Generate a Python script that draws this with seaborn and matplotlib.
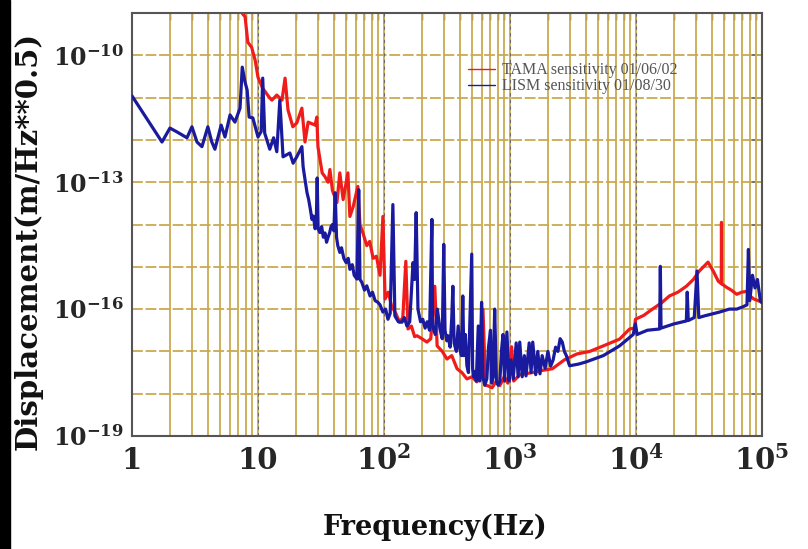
import numpy as np
import pandas as pd
import matplotlib
matplotlib.use("Agg")
import matplotlib.pyplot as plt
from matplotlib.patches import Rectangle
from matplotlib.lines import Line2D
from matplotlib.ticker import FixedLocator, FuncFormatter, NullLocator
import seaborn as sns

# ---- spectra (frequency in Hz, displacement as log10 of m/Hz^0.5) ----
tama_freq = [7.0, 7.9, 8.3, 8.9, 9.5, 10.0, 10.9, 12.4, 12.9, 14.1, 15.5, 16.4, 17.3,
             18.9, 20.3, 22.3, 23.6, 25.0, 28.4, 29.3, 29.9, 32.3, 34.0, 36.0, 37.2,
             39.0, 42.3, 44.6, 47.4, 51.7, 53.6, 56.9, 62.0, 64.5, 68, 73, 77, 82,
             87, 93, 98, 102, 108, 115, 124, 133, 141, 149, 155, 165, 175, 183, 200,
             219, 235, 253, 264, 290, 316, 345, 380, 415, 455, 500, 545, 580, 610,
             640, 665, 720, 780, 830, 900, 960, 1030, 1070, 1195, 1515, 1800, 2170,
             2700, 3400, 4300, 5500, 7400, 8900, 9700, 9900, 11500, 13500, 16000,
             18400, 21500, 25100, 28500, 31800, 37300, 41000, 45000, 47500, 47700,
             47900, 52000, 57000, 63000, 69000, 76000, 81000, 86000, 93000, 100000]
tama_log10 = [-8.9, -9.09, -9.69, -9.81, -10.12, -10.52, -10.78, -11.01, -11.06, -10.94,
              -11.06, -10.54, -11.29, -11.69, -11.6, -11.25, -12.05, -11.58, -11.65,
              -11.46, -12.16, -12.78, -12.87, -13.0, -12.7, -13.2, -13.48, -12.78,
              -13.41, -12.78, -13.81, -13.58, -13.1, -14.0, -14.2, -14.5, -14.4,
              -14.8, -14.75, -15.2, -13.81, -15.76, -15.6, -15.93, -16.1, -16.31,
              -16.2, -14.87, -16.47, -16.4, -16.65, -16.63, -16.7, -16.78, -16.7,
              -15.46, -16.87, -17.0, -17.18, -17.1, -17.41, -17.5, -17.65, -17.6,
              -17.72, -17.6, -16.0, -17.8, -17.81, -17.86, -17.7, -17.81, -17.6,
              -17.75, -16.89, -17.7, -17.55, -17.5, -17.45, -17.41, -17.2, -17.06,
              -17.0, -16.87, -16.71, -16.47, -16.45, -16.24, -16.15, -16.0, -15.85,
              -15.69, -15.6, -15.46, -15.3, -15.1, -14.89, -15.1, -15.34, -15.4,
              -13.95, -15.4, -15.48, -15.55, -15.65, -15.6, -15.58, -15.7, -15.76,
              -15.8, -15.84]

lism_freq = [1.0, 1.73, 2.0, 2.27, 2.73, 2.99, 3.28, 3.59, 4.0, 4.3, 4.55, 5.1, 5.47,
             6.0, 6.56, 7.2, 7.5, 7.9, 8.2, 8.5, 9.1, 10.0, 10.6, 10.9, 11.3, 12.4,
             13.3, 14.1, 14.9, 15.8, 17.9, 19.0, 20.3, 22.3, 22.8, 23.5, 24.5, 25.2,
             25.9, 26.8, 27.5, 28.4, 29.0, 29.5, 30.0, 31.0, 32.0, 33.0, 34.0, 35.0,
             36.0, 37.0, 38.0, 39.0, 40.0, 41.0, 42.0, 43.0, 44.6, 46, 48, 50, 52,
             53.6, 56, 58, 61, 63, 64.5, 66.5, 70, 73, 77.5, 81, 85, 89.5, 93, 98,
             103, 107.5, 112, 117.6, 122, 130, 139, 145, 152, 160, 165, 170, 175,
             180, 186, 195, 203, 212, 220, 230, 240, 243, 255, 265, 278, 290, 298,
             305, 315, 322, 335, 345, 352, 360, 375, 388, 400, 412, 422, 430, 442,
             455, 468, 480, 497, 505, 515, 525, 540, 560, 575, 595, 610, 630, 655,
             675, 700, 715, 735, 756, 780, 805, 830, 855, 880, 905, 945, 980, 1020,
             1060, 1120, 1160, 1195, 1250, 1300, 1340, 1420, 1470, 1515, 1600,
             1660, 1730, 1800, 1900, 2000, 2100, 2200, 2300, 2400, 2500, 2600,
             2700, 2800, 2970, 3500, 4000, 5500, 7400, 9500, 9900, 10200, 12300,
             15400, 15600, 15800, 20000, 25100, 25500, 26000, 29000, 30500, 31500,
             35000, 46000, 55000, 63000, 70000, 76000, 78000, 80000, 84000, 88000,
             92000, 97000, 100000]
lism_log10 = [-10.96, -12.05, -11.72, -11.81, -11.95, -11.69, -12.05, -12.16, -11.69,
              -12.05, -12.22, -11.65, -11.93, -11.41, -11.58, -11.25, -10.28, -10.64,
              -10.82, -11.46, -11.48, -11.93, -11.8, -10.54, -11.84, -12.22, -11.95,
              -12.28, -11.06, -12.4, -12.31, -12.55, -12.4, -12.16, -12.63, -12.9,
              -13.25, -13.4, -13.6, -13.88, -13.8, -14.1, -13.95, -12.9, -14.1,
              -14.19, -14.05, -14.3, -14.2, -14.42, -14.3, -14.2, -14.05, -14.0,
              -14.15, -13.25, -14.3, -14.5, -14.66, -14.55, -14.8, -14.9, -14.8,
              -15.06, -14.95, -15.2, -15.29, -13.18, -15.3, -15.36, -15.55, -15.45,
              -15.69, -15.6, -15.8, -15.84, -15.9, -16.07, -16.0, -16.24, -16.1,
              -13.53, -16.16, -16.3, -16.31, -16.2, -16.4, -16.3, -15.6, -14.9,
              -15.3, -13.72, -16.0, -16.3, -16.24, -16.45, -16.3, -16.5, -13.88,
              -16.4, -16.6, -16.0, -16.47, -16.7, -14.47, -16.5, -16.75, -16.63,
              -16.9, -16.2, -15.46, -16.8, -17.0, -16.4, -16.94, -17.1, -15.69,
              -17.1, -16.6, -17.34, -17.5, -16.3, -14.7, -17.4, -17.6, -17.48,
              -17.7, -16.4, -17.7, -15.84, -17.6, -17.8, -17.65, -16.9, -16.5,
              -17.75, -17.6, -16.0, -17.7, -17.8, -17.72, -17.0, -16.6, -17.7,
              -16.54, -17.7, -17.2, -17.65, -16.8, -17.6, -16.78, -17.6, -17.1,
              -17.58, -16.8, -17.5, -16.78, -17.55, -17.0, -17.53, -17.1, -17.4,
              -17.0, -17.35, -17.2, -16.9, -17.0, -16.7, -16.78, -17.0, -17.1,
              -17.34, -17.3, -17.25, -17.1, -16.87, -16.6, -16.35, -16.6, -16.5,
              -16.47, -14.99, -16.45, -16.35, -16.28, -15.6, -16.27, -16.2, -15.1,
              -16.2, -16.16, -16.07, -16.0, -16.0, -15.95, -15.9, -14.59, -15.8,
              -15.2, -15.5, -15.3, -15.8, -15.85]

series_labels = ["TAMA sensitivity 01/06/02", "LISM sensitivity 01/08/30"]
x_tick_labels = ["1", "10", r"$10^{2}$", r"$10^{3}$", r"$10^{4}$", r"$10^{5}$"]
y_label_exponents = [-10, -13, -16, -19]

sns.set_style("white")
plt.rcParams["font.family"] = ["DejaVu Serif"]
plt.rcParams["mathtext.fontset"] = "custom"
plt.rcParams["mathtext.rm"] = "DejaVu Serif:bold"
plt.rcParams["mathtext.it"] = "DejaVu Serif:bold"
plt.rcParams["mathtext.bf"] = "DejaVu Serif:bold"

red = "#f01c1c"
blue = "#1a1a9e"
gold = "#c9aa52"

fig = plt.figure(figsize=(8.08, 5.49), dpi=100)
ax = fig.add_axes([132 / 808, 113 / 549, 630 / 808, 423 / 549])

tama = pd.DataFrame({"freq": tama_freq, "disp": np.power(10.0, tama_log10)})
lism = pd.DataFrame({"freq": lism_freq, "disp": np.power(10.0, lism_log10)})

sns.lineplot(data=tama, x="freq", y="disp", ax=ax, color=red, lw=2.3,
             estimator=None, sort=False, zorder=3)
sns.lineplot(data=lism, x="freq", y="disp", ax=ax, color=blue, lw=2.3,
             estimator=None, sort=False, zorder=4)

ax.set_xscale("log")
ax.set_yscale("log")
ax.set_xlim(1, 1e5)
ax.set_ylim(1e-19, 1e-9)

# vertical grid at every 1..9 x decade, horizontal grid at every decade
minor_x = [m * 10.0 ** d for d in range(5) for m in range(1, 10)] + [1e5]
for xv in minor_x:
    ax.axvline(xv, color=gold, lw=1.3, zorder=1)
for d in range(1, 5):
    ax.axvline(10.0 ** d, color="#6a6a6a", lw=0.8, ls=(0, (3, 3)), zorder=1.5)
for e in range(-18, -9):
    ax.axhline(10.0 ** e, color=gold, lw=1.3, ls=(0, (6, 1.5)), zorder=1)

ax.xaxis.set_major_locator(FixedLocator([10.0 ** d for d in range(6)]))
ax.xaxis.set_minor_locator(FixedLocator(minor_x))
ax.xaxis.set_major_formatter(FuncFormatter(lambda v, p: x_tick_labels[int(round(np.log10(v)))]))
ax.xaxis.set_minor_formatter(FuncFormatter(lambda v, p: ""))

ax.yaxis.set_major_locator(FixedLocator([10.0 ** e for e in range(-19, -8)]))
ax.yaxis.set_minor_locator(NullLocator())


def ylab(v, p):
    e = int(round(np.log10(v)))
    return r"$10^{%d}$" % e if e in y_label_exponents else ""


ax.yaxis.set_major_formatter(FuncFormatter(ylab))

ax.tick_params(axis="both", which="both", direction="in", top=True, right=True,
               color="#555555")
ax.tick_params(axis="x", which="major", length=8, width=1.2, labelsize=21, pad=7)
ax.tick_params(axis="x", which="minor", length=5, width=1.0)
ax.tick_params(axis="y", which="major", length=8, width=1.2, labelsize=17, pad=6)
for lab in ax.get_xticklabels() + ax.get_yticklabels():
    lab.set_fontweight("bold")

for s in ax.spines.values():
    s.set_color("#555555")
    s.set_linewidth(1.5)

ax.set_xlabel("Frequency(Hz)", fontsize=19.5, fontweight="bold", color="#111111",
              va="center")
ax.set_ylabel("Displacement(m/Hz**0.5)", fontsize=21, fontweight="bold", color="#111111",
              va="center")
ax.xaxis.set_label_coords(0.481, -0.215)
ax.yaxis.set_label_coords(-0.165, 0.46)

handles = [Line2D([], [], color=red, lw=1.0), Line2D([], [], color=blue, lw=1.0)]
leg = ax.legend(handles, series_labels, loc="upper left", bbox_to_anchor=(0.521, 0.902),
                frameon=False, borderpad=0, handlelength=1.7, handletextpad=0.4,
                labelspacing=0.0, prop={"family": "Liberation Serif", "size": 11.5})
for t in leg.get_texts():
    t.set_color("#555555")

fig.add_artist(Rectangle((0, 0), 10 / 808, 1, transform=fig.transFigure,
                         color="black", zorder=10))

fig.savefig("out.png", dpi=100)
